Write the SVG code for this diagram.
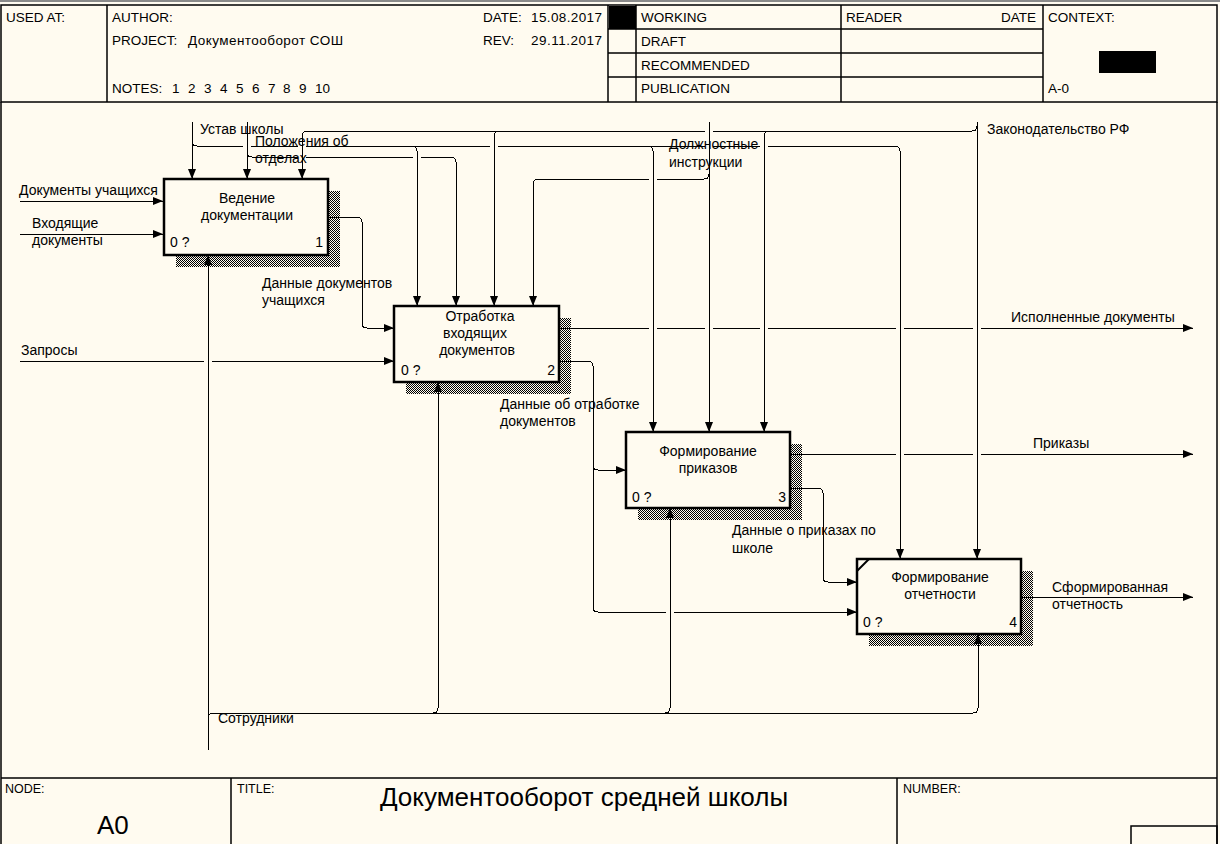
<svg xmlns="http://www.w3.org/2000/svg" width="1220" height="844" viewBox="0 0 1220 844">
<defs>
<style>
text{font-family:"Liberation Sans",Arial,sans-serif;fill:#000}
.hd{font-size:13.5px;white-space:pre}
.sm{font-size:12.5px}
.lb{font-size:14px}
.bx{font-size:14px;text-anchor:middle}
.num{font-size:14px}
.fr{stroke:#000;stroke-width:1.5;fill:none}
.box{fill:#fffbf0;stroke:#000;stroke-width:2.5}
.sh{fill:url(#hatch)}
.cn path{fill:none;stroke:#000;stroke-width:1;marker-end:url(#arr)}
</style>
<pattern id="hatch" width="2" height="2" patternUnits="userSpaceOnUse">
<rect width="2" height="2" fill="#fffbf0"/>
<rect x="0" y="0" width="1" height="1" fill="#000"/>
<rect x="1" y="1" width="1" height="1" fill="#000"/>
</pattern>
<marker id="arr" viewBox="0 0 10 8" refX="10" refY="4" markerWidth="10" markerHeight="8" markerUnits="userSpaceOnUse" orient="auto">
<path d="M0,0 L10,4 L0,8 z" fill="#000"/>
</marker>
</defs>
<rect width="1220" height="844" fill="#fffbf0"/>

<g id="frame">
<line x1="0" y1="1" x2="1220" y2="1" stroke="#8a8a8a" stroke-width="2"/>
<rect class="fr" x="1" y="5" width="1216" height="97"/>
<line class="fr" x1="107" y1="5" x2="107" y2="102"/>
<line class="fr" x1="608" y1="5" x2="608" y2="102"/>
<line class="fr" x1="636" y1="5" x2="636" y2="102"/>
<line class="fr" x1="841" y1="5" x2="841" y2="102"/>
<line class="fr" x1="1043" y1="5" x2="1043" y2="102"/>
<line class="fr" x1="608" y1="29" x2="1043" y2="29"/>
<line class="fr" x1="608" y1="53" x2="1043" y2="53"/>
<line class="fr" x1="608" y1="77" x2="1043" y2="77"/>
<rect x="609" y="6" width="27" height="23" fill="#000"/>
<rect x="1099" y="51" width="57" height="22" fill="#000"/>
<line class="fr" x1="1" y1="102" x2="1" y2="844"/>
<line class="fr" x1="1217" y1="102" x2="1217" y2="844"/>
<line class="fr" x1="1" y1="778" x2="1217" y2="778"/>
<line class="fr" x1="231" y1="778" x2="231" y2="844"/>
<line class="fr" x1="897" y1="778" x2="897" y2="844"/>
<rect class="fr" x="1131" y="826" width="86" height="20"/>
<text class="hd" x="6" y="22">USED AT:</text>
<text class="hd" x="112" y="22">AUTHOR:</text>
<text class="hd" x="112" y="45">PROJECT:</text>
<text class="hd" x="188" y="45" textLength="155">Документооборот СОШ</text>
<text class="hd" x="112" y="93">NOTES:</text>
<text class="hd" y="93"><tspan x="172">1</tspan><tspan x="188">2</tspan><tspan x="204">3</tspan><tspan x="220">4</tspan><tspan x="236">5</tspan><tspan x="252">6</tspan><tspan x="268">7</tspan><tspan x="283">8</tspan><tspan x="299">9</tspan><tspan x="315">10</tspan></text>
<text class="hd" x="483" y="22">DATE:</text>
<text class="hd" x="531" y="22" textLength="71">15.08.2017</text>
<text class="hd" x="483" y="45">REV:</text>
<text class="hd" x="531" y="45" textLength="71">29.11.2017</text>
<text class="hd" x="641" y="22">WORKING</text>
<text class="hd" x="641" y="46">DRAFT</text>
<text class="hd" x="641" y="70">RECOMMENDED</text>
<text class="hd" x="641" y="93">PUBLICATION</text>
<text class="hd" x="846" y="22">READER</text>
<text class="hd" x="1036" y="22" text-anchor="end">DATE</text>
<text class="hd" x="1048" y="22">CONTEXT:</text>
<text class="hd" x="1048" y="93">A-0</text>
<text class="sm" x="5" y="793">NODE:</text>
<text class="sm" x="237" y="793">TITLE:</text>
<text class="sm" x="903" y="793">NUMBER:</text>
<text x="97" y="834" style="font-size:26px">A0</text>
<text x="584" y="806" style="font-size:26px" text-anchor="middle">Документооборот средней школы</text>
</g>

<g id="labels">
<text class="lb" x="200" y="134">Устав школы</text>
<text class="lb" x="255" y="146">Положения об</text>
<text class="lb" x="255" y="163">отделах</text>
<text class="lb" x="669" y="149">Должностные</text>
<text class="lb" x="669" y="167">инструкции</text>
<text class="lb" x="987" y="134">Законодательство РФ</text>
<text class="lb" x="19" y="195">Документы учащихся</text>
<text class="lb" x="32" y="228">Входящие</text>
<text class="lb" x="32" y="245">документы</text>
<text class="lb" x="262" y="288">Данные документов</text>
<text class="lb" x="262" y="305">учащихся</text>
<text class="lb" x="21" y="355">Запросы</text>
<text class="lb" x="1011" y="322">Исполненные документы</text>
<text class="lb" x="500" y="409">Данные об отработке</text>
<text class="lb" x="500" y="426">документов</text>
<text class="lb" x="1033" y="448">Приказы</text>
<text class="lb" x="732" y="535">Данные о приказах по</text>
<text class="lb" x="732" y="553">школе</text>
<text class="lb" x="1052" y="592">Сформированная</text>
<text class="lb" x="1052" y="609">отчетность</text>
<text class="lb" x="218" y="723">Сотрудники</text>
</g>

<g id="node1">
<rect class="sh" x="176" y="191" width="164" height="76"/>
<rect class="box" x="164" y="179" width="164" height="76"/>
<text class="bx" x="247" y="203">Ведение</text>
<text class="bx" x="247" y="220">документации</text>
<text class="num" x="170" y="247">0 ?</text>
<text class="num" x="323" y="247" text-anchor="end">1</text>
</g>

<g id="node2">
<rect class="sh" x="406" y="318" width="165" height="76"/>
<rect class="box" x="394" y="306" width="165" height="76"/>
<text class="bx" x="480" y="321">Отработка</text>
<text class="bx" x="475" y="338">входящих</text>
<text class="bx" x="477" y="355">документов</text>
<text class="num" x="401" y="375">0 ?</text>
<text class="num" x="555" y="375" text-anchor="end">2</text>
</g>

<g id="node3">
<rect class="sh" x="638" y="444" width="164" height="76"/>
<rect class="box" x="626" y="432" width="164" height="76"/>
<text class="bx" x="708" y="456">Формирование</text>
<text class="bx" x="708" y="473">приказов</text>
<text class="num" x="632" y="502">0 ?</text>
<text class="num" x="786" y="502" text-anchor="end">3</text>
</g>

<g id="node4">
<rect class="sh" x="869" y="571" width="164" height="75"/>
<rect class="box" x="857" y="559" width="164" height="75"/>
<line x1="857" y1="571" x2="869" y2="559" stroke="#000" stroke-width="2"/>
<text class="bx" x="940" y="582">Формирование</text>
<text class="bx" x="940" y="599">отчетности</text>
<text class="num" x="863" y="627">0 ?</text>
<text class="num" x="1017" y="627" text-anchor="end">4</text>
</g>

<g id="connectors" class="cn" shape-rendering="crispEdges">
<path d="M192,122 V179"/>
<path d="M192,141 Q192,146 197,146 H243 M251,146 H298 M306,146 H412 Q417,146 417,151 V306"/>
<path d="M412,146 H490 M498,146 H648 Q653,146 653,151 V432"/>
<path d="M648,146 H705 M713,146 H760 M768,146 H895 Q900,146 900,151 V559"/>
<path d="M247,122 V179"/>
<path d="M247,152 Q247,157 252,157 H298 M306,157 H413 M421,157 H451 Q456,157 456,162 V306"/>
<path d="M977,122 V559"/>
<path d="M977,126 Q977,131 972,131 H713 M705,131 H499 Q494,131 494,136 V306"/>
<path d="M499,131 H307 Q302,131 302,136 V179"/>
<path d="M769,131 Q764,131 764,136 V432"/>
<path d="M709,122 V432"/>
<path d="M709,174 Q709,179 704,179 H657 M649,179 H538 Q533,179 533,184 V306"/>
<path d="M20,201 H163"/>
<path d="M20,234 H163"/>
<path d="M329,217 H357 Q362,217 362,222 V323 Q362,328 367,328 H394"/>
<path d="M20,361 H204 M212,361 H394"/>
<path d="M560,328 H649 M657,328 H705 M713,328 H760 M768,328 H896 M904,328 H973 M981,328 H1193"/>
<path d="M560,361 H588 Q593,361 593,366 V465 Q593,470 598,470 H626"/>
<path d="M593,465 V607 Q593,612 598,612 H666 M674,612 H857"/>
<path d="M791,454 H896 M904,454 H973 M981,454 H1193"/>
<path d="M791,488 H818 Q823,488 823,493 V577 Q823,582 828,582 H857"/>
<path d="M1022,597 H1193"/>
<path d="M208,750 V255"/>
<path d="M208,718 Q208,713 213,713 H973 Q978,713 978,708 V634"/>
<path d="M433,713 Q438,713 438,708 V382"/>
<path d="M665,713 Q670,713 670,708 V508"/>
</g>
</svg>
